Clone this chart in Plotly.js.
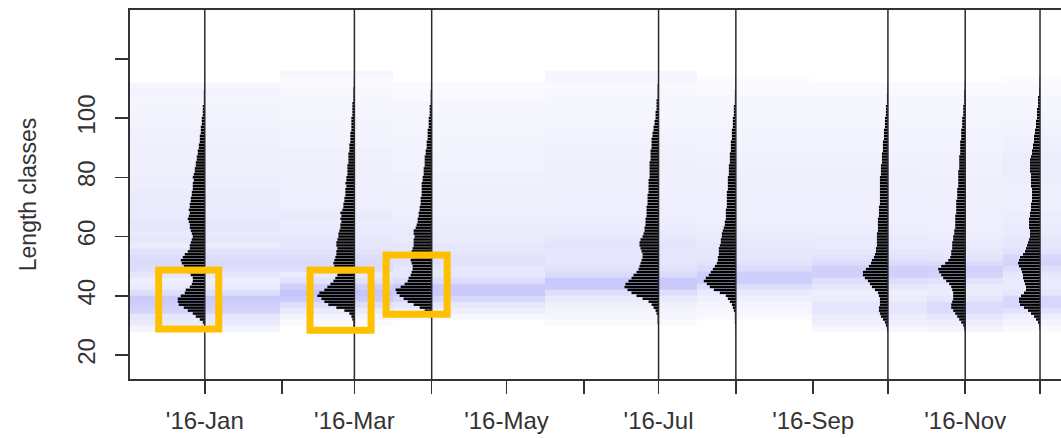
<!DOCTYPE html>
<html>
<head>
<meta charset="utf-8">
<script src="https://cdn.plot.ly/plotly-3.0.1.min.js"></script>
<style>html,body{margin:0;padding:0;background:#fff;}#chart{width:1061px;height:438px;}</style>
</head>
<body>
<div id="chart"></div>
<script>
// Sample dates
var sampleDates = ['2016-01-01','2016-03-01','2016-04-01','2016-07-01','2016-08-01','2016-10-01','2016-11-01','2016-12-01'];

// Length classes (1 cm) for the frequency bars: 28..115
var lengthClasses = [];
for (var L = 28; L <= 115; L++) lengthClasses.push(L);

// Frequencies per sample (relative counts)
var freqJan = [0,0,1,2,5,9,12,17,21,26, 27,27,24,20,19,15,13,12,12,14, 16,18,21,23,24,22,20,17,15,15, 14,13,12,13,14,15,15,16,17,16, 15,16,15,15,14,14,13,13,12,12, 12,11,12,11,10,10,9,9,8,8, 7,7,6,6,5,5,5,4,4,4, 3,3,3,2,2,2,2,1,1,1, 1,1,0.5,0.5,0.5,0.3,0.3,0];
var freqMar = [0,0.5,1,1,2,3,5,10,18,26, 30,33,37,35,30,27,24,21,19,17, 16,18,20,21,20,19,18,18,17,18, 18,17,16,16,15,14,14,13,14,13, 14,12,11,11,10,10,9,9,9,8, 9,8,8,7,7,7,7,6,6,6, 6,5,5,5,4,4,4,4,3,3, 3,3,3,2,2,2,2,2,1,1, 1,1,1,0.5,0.5,0.5,0.3,0];
var freqApr = [0,0,0,0,0.5,1,3,7,12,18, 24,28,32,35,36,31,27,24,23,21, 20,19,19,20,21,20,20,20,19,18, 18,18,17,18,18,16,15,14,14,13, 13,12,12,11,11,11,10,10,10,10, 10,9,9,8,8,8,7,7,7,7, 6,6,5,5,5,4,4,4,4,3, 3,3,3,2,2,2,2,1,1,1, 1,1,0.5,0.5,0.5,0.3,0,0];
var freqJul = [0,0.5,0.5,1,1,1,2,3,5,7, 10,16,22,27,31,34,33,30,27,25, 22,20,19,18,17,16,16,17,18,19, 19,18,16,15,14,14,13,13,13,12, 12,12,12,11,11,11,11,10,10,10, 10,10,9,9,9,9,9,9,8,8, 8,8,7,7,7,7,6,6,5,5, 4,4,3,3,3,2,2,2,2,1, 1,1,1,1,0.5,0.5,0.5,0.3];
var freqAug = [0,0.5,0.5,1,1,1,1,2,3,4, 6,8,10,16,22,26,29,32,30,27, 25,23,21,19,18,18,17,17,17,16, 15,15,14,14,13,12,11,11,10,10, 10,10,9,9,9,9,9,9,8,8, 8,8,8,7,7,7,7,6,6,6, 6,5,5,5,5,4,4,4,4,3, 3,3,3,2,2,2,2,1,1,1, 1,1,0.5,0.5,0.5,0.3,0.3,0];
var freqOct = [0.5,1,2,3,5,7,8,9,9,8, 8,8,9,10,13,16,18,20,23,25, 25,22,19,17,16,14,13,12,12,11, 11,11,11,11,10,10,10,10,10,9, 9,9,9,8,8,8,8,8,8,8, 8,8,8,7,7,7,7,6,6,6, 6,5,5,5,5,4,4,4,4,3, 3,3,3,2,2,2,2,1,1,1, 1,0.5,0.5,0.5,0.3,0,0,0];
var freqNov = [0.5,1,2,4,6,8,10,12,14,14, 13,12,12,12,13,14,16,19,22,24, 26,27,24,20,17,15,14,14,13,13, 13,12,12,11,11,10,10,10,10,10, 9,9,9,9,9,8,8,8,8,7, 7,7,7,7,7,6,6,6,6,6, 5,5,5,5,5,4,4,4,4,3, 3,3,3,2,2,2,2,1,1,1, 1,1,0.5,0.5,0.5,0.3,0,0];
var freqDec = [0,0.5,1,2,4,6,9,12,16,20, 21,21,19,16,14,14,15,16,17,17, 18,19,21,22,21,20,17,15,14,13, 12,11,10,10,10,11,11,11,11,10, 10,9,9,9,8,8,8,8,8,9, 9,9,9,9,10,10,10,10,10,9, 8,8,7,7,6,6,6,5,5,4, 4,4,3,3,3,3,2,2,2,2, 1,1,1,0.5,0.5,0.5,0.3,0];
var freqs = [freqJan, freqMar, freqApr, freqJul, freqAug, freqOct, freqNov, freqDec];

// Background (restructured scores) in 2 cm classes: 29..115
var bgClasses = [];
for (var B = 29; B <= 115; B += 2) bgClasses.push(B);
var bgJan = [0.05,0.15,0.2,0.45,0.55,0.6,0.3,0.15,0.1,0.2, 0.3,0.35,0.3,0.25,0.12,0.2,0.15,0.2,0.2,0.15, 0.15,0.12,0.15,0.12,0.1,0.12,0.1,0.1,0.08,0.1, 0.08,0.08,0.07,0.07,0.06,0.06,0.05,0.05,0.05,0.04, 0.06,0.03,0,0];
var bgMar = [0,0.02,0.05,0.15,0.3,0.6,0.75,0.5,0.25,0.15, 0.3,0.35,0.3,0.25,0.2,0.2,0.15,0.15,0.12,0.15, 0.12,0.1,0.1,0.1,0.08,0.1,0.08,0.08,0.08,0.07, 0.07,0.06,0.06,0.05,0.05,0.05,0.04,0.04,0.04,0.03, 0.03,0.02,0.02,0.04];
var bgApr = [0,0,0.03,0.1,0.2,0.4,0.65,0.6,0.3,0.2, 0.2,0.25,0.25,0.2,0.2,0.15,0.15,0.12,0.12,0.1, 0.1,0.1,0.08,0.08,0.08,0.07,0.07,0.06,0.06,0.06, 0.05,0.05,0.05,0.04,0.04,0.04,0.03,0.03,0.03,0.02, 0.02,0.02,0,0];
var bgJul = [0,0.02,0.03,0.05,0.08,0.15,0.3,0.6,0.65,0.35, 0.25,0.2,0.2,0.2,0.22,0.2,0.15,0.12,0.12,0.1, 0.1,0.1,0.1,0.09,0.09,0.08,0.08,0.08,0.08,0.07, 0.07,0.07,0.06,0.06,0.05,0.04,0.04,0.04,0.03,0.03, 0.03,0.02,0.04,0.04];
var bgAug = [0,0,0.02,0.03,0.05,0.08,0.15,0.3,0.55,0.55, 0.35,0.25,0.2,0.2,0.18,0.15,0.15,0.12,0.1,0.1, 0.1,0.09,0.09,0.09,0.08,0.08,0.08,0.07,0.07,0.07, 0.06,0.06,0.05,0.05,0.05,0.04,0.04,0.03,0.03,0.03, 0.02,0.02,0.01,0];
var bgOct = [0.03,0.08,0.12,0.2,0.2,0.12,0.1,0.2,0.3,0.5, 0.5,0.35,0.25,0.2,0.15,0.15,0.12,0.12,0.1,0.1, 0.1,0.09,0.09,0.09,0.08,0.08,0.08,0.07,0.07,0.07, 0.06,0.06,0.05,0.05,0.05,0.04,0.04,0.03,0.03,0.03, 0.02,0.02,0,0];
var bgNov = [0.05,0.1,0.2,0.35,0.35,0.2,0.12,0.15,0.25,0.45, 0.5,0.35,0.22,0.18,0.15,0.13,0.12,0.1,0.1,0.1, 0.1,0.09,0.09,0.08,0.08,0.08,0.07,0.07,0.07,0.07, 0.06,0.06,0.05,0.05,0.05,0.04,0.04,0.03,0.03,0.03, 0.02,0.02,0,0];
var bgDec = [0.02,0.05,0.1,0.25,0.4,0.4,0.2,0.15,0.15,0.2, 0.3,0.45,0.4,0.25,0.2,0.2,0.15,0.15,0.12,0.12, 0.1,0.1,0.1,0.1,0.1,0.1,0.12,0.12,0.12,0.12, 0.1,0.08,0.07,0.06,0.05,0.05,0.04,0.04,0.03,0.03, 0.02,0.02,0.01,0];
var bgScores = [bgJan, bgMar, bgApr, bgJul, bgAug, bgOct, bgNov, bgDec];

// Tick labels
var monthTicks = ['2016-01-01','2016-02-01','2016-03-01','2016-04-01','2016-05-01','2016-06-01','2016-07-01','2016-08-01','2016-09-01','2016-10-01','2016-11-01','2016-12-01'];
var monthLabels = ["'16-Jan","","'16-Mar","","'16-May","","'16-Jul","","'16-Sep","","'16-Nov",""];
var yTicks = [20,40,60,80,100,120];
var yLabels = ['20','40','60','80','100',''];

// ---- build traces ----
var zMatrix = bgClasses.map(function(_, i){ return bgScores.map(function(s){ return s[i]; }); });
var traces = [{
  type: 'heatmap', x: sampleDates, y: bgClasses, z: zMatrix,
  zmin: 0, zmax: 1, zsmooth: false, showscale: false, hoverinfo: 'skip',
  colorscale: [[0,'#ffffff'],[0.03,'rgb(246,246,254)'],[0.1,'rgb(238,238,253)'],[0.25,'rgb(226,226,252)'],[0.5,'rgb(208,208,251)'],[1,'rgb(185,185,250)']]
}];
var barScaleMs = 86400000 / 2.49; // one frequency unit -> time length
sampleDates.forEach(function(d, k){
  traces.push({
    type: 'bar', orientation: 'h', y: lengthClasses,
    x: freqs[k].map(function(f){ return -f * barScaleMs; }),
    base: lengthClasses.map(function(){ return d; }),
    width: 0.85, marker: {color: '#000000', line: {width: 0}},
    hoverinfo: 'skip', showlegend: false
  });
});

var shapes = sampleDates.map(function(d){
  return {type:'line', xref:'x', yref:'paper', x0:d, x1:d, y0:0, y1:1, line:{color:'#2a2a2a', width:1.5}, layer:'above'};
});
var boxStyle = {color:'#FFC000', width:7};
shapes.push({type:'rect', xref:'x', yref:'y', x0:'2015-12-13 12:00', x1:'2016-01-06 14:00', y0:28.8, y1:48.7, line:boxStyle, layer:'above'});
shapes.push({type:'rect', xref:'x', yref:'y', x0:'2016-02-12 05:00', x1:'2016-03-07 17:00', y0:28.4, y1:48.7, line:boxStyle, layer:'above'});
shapes.push({type:'rect', xref:'x', yref:'y', x0:'2016-03-13 17:00', x1:'2016-04-07 05:00', y0:33.8, y1:53.8, line:boxStyle, layer:'above'});

var fontFam = 'Liberation Sans, Arial, sans-serif';
var layout = {
  width: 1061, height: 438,
  margin: {l:130, r:0, t:10, b:59, pad:0},
  paper_bgcolor: '#ffffff', plot_bgcolor: '#ffffff',
  showlegend: false, barmode: 'overlay',
  font: {family: fontFam, color: '#333333', size: 24},
  xaxis: {
    type: 'date', range: ['2015-12-02', '2016-12-09 10:00'],
    tickvals: monthTicks, ticktext: monthLabels,
    ticks: 'outside', ticklen: 13, tickwidth: 1.5, tickcolor: '#333333',
    showline: true, linecolor: '#333333', linewidth: 2, mirror: true,
    showgrid: false, zeroline: false, ticklabelstandoff: 6,
    tickfont: {size: 24, family: fontFam, color: '#333333'}
  },
  yaxis: {
    range: [11.9, 136.5], tickvals: yTicks, ticktext: yLabels,
    ticks: 'outside', ticklen: 13, tickwidth: 1.5, tickcolor: '#333333',
    showline: true, linecolor: '#333333', linewidth: 2,
    showgrid: false, zeroline: false, tickangle: -90, ticklabelstandoff: 10,
    tickfont: {size: 24, family: fontFam, color: '#333333'},
    title: {text: 'Length classes', font: {size: 23, family: fontFam, color: '#333333'}, standoff: 30}
  },
  shapes: shapes
};
Plotly.newPlot('chart', traces, layout, {displayModeBar: false, staticPlot: true});
</script>
</body>
</html>
